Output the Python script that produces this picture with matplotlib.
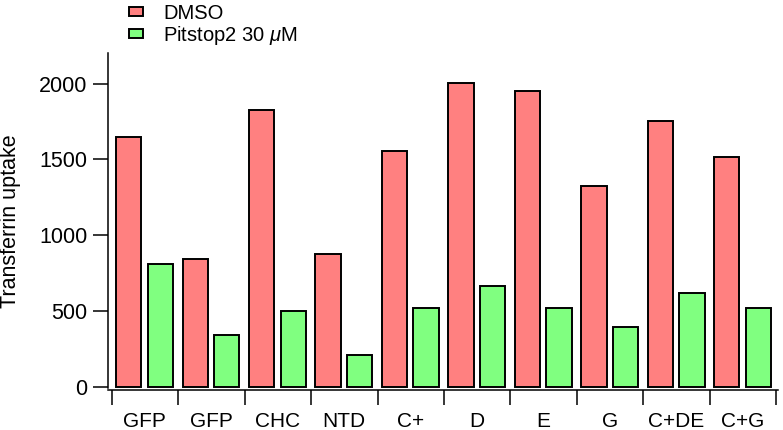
import numpy as np
import matplotlib
matplotlib.use('Agg')
import matplotlib.pyplot as plt
from matplotlib.ticker import FixedLocator, NullFormatter

plt.rcParams['font.family'] = ['Liberation Sans', 'DejaVu Sans']
plt.rcParams['mathtext.fontset'] = 'custom'
plt.rcParams['mathtext.it'] = 'Liberation Sans:italic'
plt.rcParams['mathtext.rm'] = 'Liberation Sans'

# values
categories = ['GFP', 'GFP', 'CHC', 'NTD', 'C+', 'D', 'E', 'G', 'C+DE', 'C+G']
dmso = [1650, 845, 1828, 878, 1558, 2002, 1950, 1322, 1750, 1515]
pitstop = [810, 342, 498, 210, 520, 667, 522, 392, 616, 518]
series_names = ['DMSO', 'Pitstop2 30 $\\mu$M']
yticks = [0, 500, 1000, 1500, 2000]

W, H = 783, 430
fig = plt.figure(figsize=(W / 100, H / 100), dpi=100)
ax = fig.add_axes([108.3 / W, (H - 388.2) / H, (778 - 108.3) / W, (388.2 - 53.3) / H])

x = np.arange(len(categories))
bw = 0.38
ax.bar(x + 0.256, dmso, bw, color='#ff8080', edgecolor='black', linewidth=1.4, label=series_names[0])
ax.bar(x + 0.731, pitstop, bw, color='#80ff80', edgecolor='black', linewidth=1.4, label=series_names[1])

ax.set_xlim(-0.051, 10.026)
ax.set_ylim(-10, 2200)

for s in ['top', 'right']:
    ax.spines[s].set_visible(False)
ax.spines['bottom'].set_position(('outward', 1))
for s in ['left', 'bottom']:
    ax.spines[s].set_linewidth(1.1)

ax.set_yticks(yticks)
ax.tick_params(axis='y', length=10.8, width=1.1, pad=4, labelsize=15.5)

# boundary ticks on x, labels centred between them
ax.xaxis.set_major_locator(FixedLocator(np.arange(len(categories) + 1)))
ax.xaxis.set_major_formatter(NullFormatter())
ax.xaxis.set_minor_locator(FixedLocator(x + 0.5))
ax.xaxis.set_minor_formatter(plt.FixedFormatter(categories))
ax.tick_params(axis='x', which='major', length=10.8, width=1.1)
ax.tick_params(axis='x', which='minor', length=0, pad=16, labelsize=15)

ax.set_ylabel('Transferrin uptake', fontsize=15.5)
ax.yaxis.set_label_coords(-0.13, 0.5)

fig.legend(loc='upper left', bbox_to_anchor=(129 / W, 1 - 4 / H), frameon=False,
           fontsize=14.5, handlelength=0.7, handleheight=0.34, handletextpad=1.0,
           labelspacing=0.05, borderpad=0, borderaxespad=0)

fig.savefig('out.png', dpi=100)
